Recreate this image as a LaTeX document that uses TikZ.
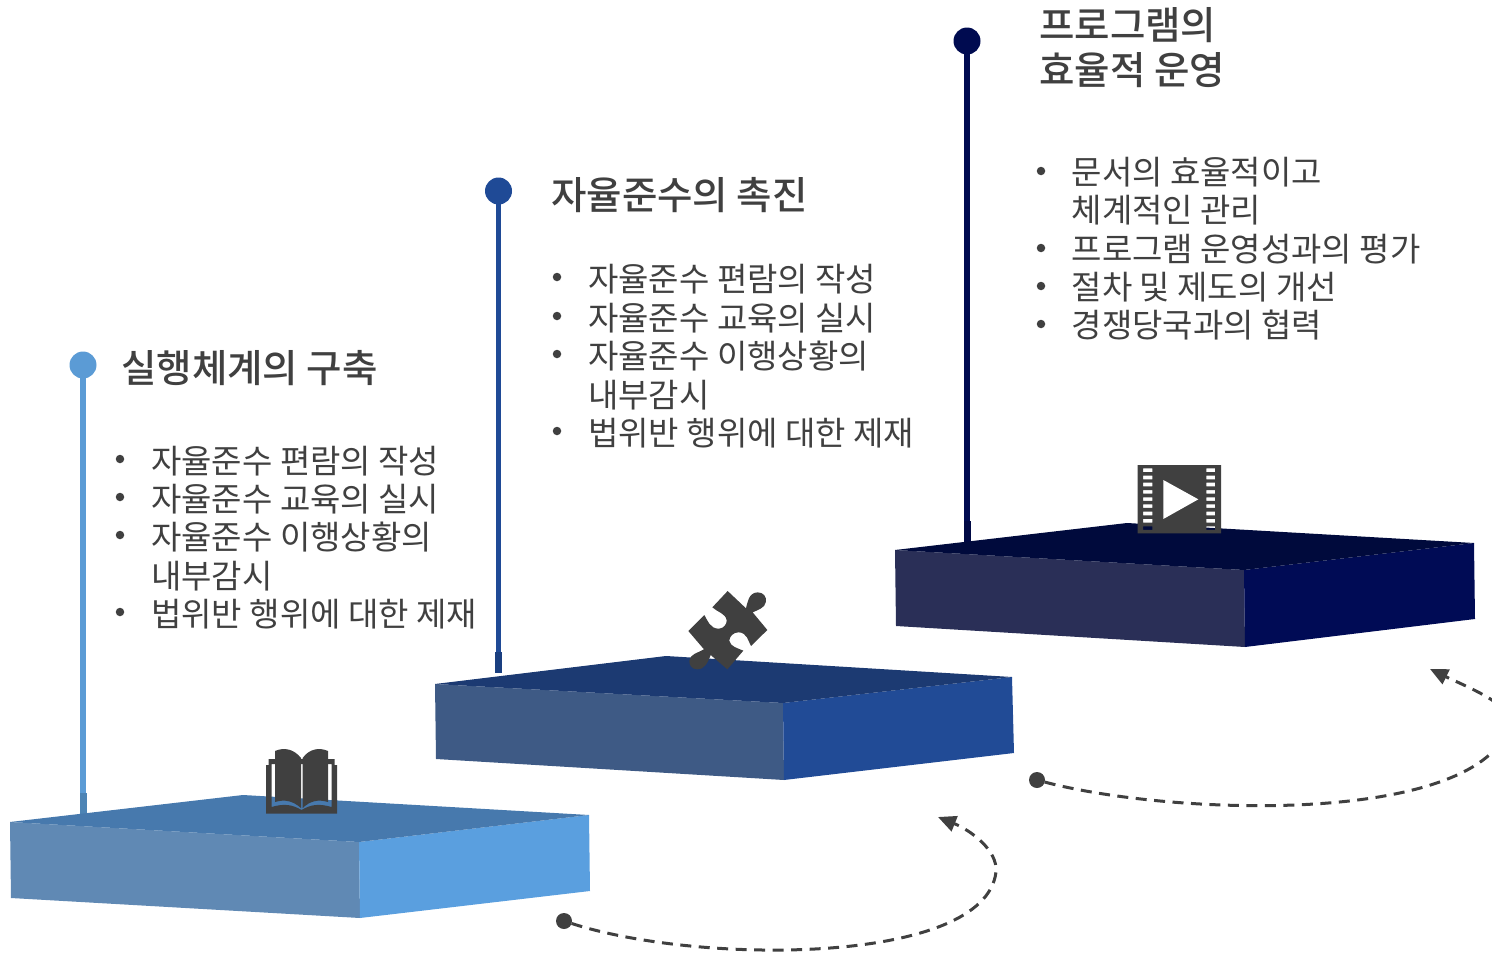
\documentclass[tikz,border=0pt]{standalone}
\usepackage{fontspec}
\usepackage{xcolor}
\usetikzlibrary{positioning,arrows.meta}
\newfontfamily\krfont{Noto Sans CJK KR}
\newfontfamily\krmed{Noto Sans CJK KR Medium}
\definecolor{ink}{HTML}{404040}
\definecolor{lightblue}{HTML}{5B9BD5}
\definecolor{midblue}{HTML}{1F4A96}
\definecolor{navy}{HTML}{000B50}
\definecolor{topA}{HTML}{4779AD}
\definecolor{leftA}{HTML}{6089B4}
\definecolor{rightA}{HTML}{5A9FDF}
\definecolor{topB}{HTML}{1C3A72}
\definecolor{leftB}{HTML}{3E5A85}
\definecolor{rightB}{HTML}{214B96}
\definecolor{topC}{HTML}{000A3C}
\definecolor{leftC}{HTML}{2A2F57}
\definecolor{rightC}{HTML}{000B55}
\tikzset{
  title/.style={anchor=base west,inner sep=0pt,text=ink,font=\krmed\fontsize{38.5}{45}\selectfont},
  item/.style={anchor=base west,inner sep=0pt,text=ink,font=\krfont\fontsize{33}{38}\selectfont},
  bul/.style={circle,fill=ink,inner sep=0pt,minimum size=8.5pt},
  dotend/.style={circle,fill=#1,inner sep=0pt,outer sep=0pt,minimum size=27pt},
  startdot/.style={circle,fill=ink,inner sep=0pt,outer sep=0pt,minimum size=16pt},
  pole/.style={line width=5.5pt},
  polefoot/.style={line width=7pt},
  loopline/.style={ink,line width=3pt,dash pattern=on 11pt off 7.5pt,-{Triangle[length=18pt,width=16pt]}},
}
\begin{document}
\begin{tikzpicture}[x=1pt,y=-1pt]
    \useasboundingbox (0,0) rectangle (1492,953);

    % poles
    \path
    (83,365) node[dotend=lightblue] (headA) {}
    (83,793) coordinate (footA)
    (83,815) coordinate (baseA)
    (498.5,191) node[dotend=midblue] (headB) {}
    (498.5,652) coordinate (footB)
    (498.5,673) coordinate (baseB)
    (967,41) node[dotend=navy] (headC) {}
    (967,521) coordinate (footC)
    (967,542) coordinate (baseC)
    ;
    \draw[pole,lightblue] (headA.center) -- (footA);
    \draw[polefoot,lightblue!85!black] (footA) -- (baseA);
    \draw[pole,midblue] (headB.center) -- (footB);
    \draw[polefoot,midblue!85!black] (footB) -- (baseB);
    \draw[pole,navy] (headC.center) -- (footC);
    \draw[polefoot,navy!85!black] (footC) -- (baseC);

    % platforms
    \fill[leftA] (10,822) -- (359,842) -- (360,918) -- (11,898) -- cycle;
    \fill[rightA] (359,842) -- (589,815) -- (590,891) -- (360,918) -- cycle;
    \fill[topA] (10,822) -- (243,795) -- (589,815) -- (359,842) -- cycle;

    \fill[leftB] (435,684) -- (783,703) -- (784,780) -- (436,759) -- cycle;
    \fill[rightB] (783,703) -- (1012,677) -- (1014,753) -- (784,780) -- cycle;
    \fill[topB] (435,684) -- (666,656) -- (1012,677) -- (783,703) -- cycle;

    \fill[leftC] (895,550) -- (1244,570) -- (1245,647) -- (896,626) -- cycle;
    \fill[rightC] (1244,570) -- (1474,543) -- (1475,619) -- (1245,647) -- cycle;
    \fill[topC] (895,550) -- (1127,523) -- (1474,543) -- (1244,570) -- cycle;

    % titles
    \path
    (121,382) node[title] (titleA) {실행체계의 구축}
    (551,209) node[title] (titleB) {자율준수의 촉진}
    (1039,39.5) node[title] (titleCa) {프로그램의}
    (1039,84.5) node[title] (titleCb) {효율적 운영}
    ;

    % first list
    \path
    (151,473) node[item] (itemAa) {자율준수 편람의 작성}
    (151,511) node[item] (itemAb) {자율준수 교육의 실시}
    (151,549) node[item] (itemAc) {자율준수 이행상황의}
    (151,588) node[item] (itemAd) {내부감시}
    (151,626) node[item] (itemAe) {법위반 행위에 대한 제재}
    (120,459) node[bul] (bulAa) {}
    (120,497) node[bul] (bulAb) {}
    (120,535) node[bul] (bulAc) {}
    (120,612) node[bul] (bulAe) {}
    ;

    % second list
    \path
    (588,291) node[item] (itemBa) {자율준수 편람의 작성}
    (588,330) node[item] (itemBb) {자율준수 교육의 실시}
    (588,368) node[item] (itemBc) {자율준수 이행상황의}
    (588,407) node[item] (itemBd) {내부감시}
    (588,445) node[item] (itemBe) {법위반 행위에 대한 제재}
    (557,277) node[bul] (bulBa) {}
    (557,316) node[bul] (bulBb) {}
    (557,354) node[bul] (bulBc) {}
    (557,431) node[bul] (bulBe) {}
    ;

    % third list
    \path
    (1071.5,184) node[item] (itemCa) {문서의 효율적이고}
    (1071.5,222) node[item] (itemCb) {체계적인 관리}
    (1071.5,261) node[item] (itemCc) {프로그램 운영성과의 평가}
    (1071.5,299) node[item] (itemCd) {절차 및 제도의 개선}
    (1071.5,337) node[item] (itemCe) {경쟁당국과의 협력}
    (1041,171) node[bul] (bulCa) {}
    (1041,248) node[bul] (bulCc) {}
    (1041,286) node[bul] (bulCd) {}
    (1041,324) node[bul] (bulCe) {}
    ;

    % book
    \fill[ink,even odd rule] (266,765) -- (268.5,765) -- (268.5,759) -- (334.5,759) -- (334.5,765) -- (337,765) -- (337,813.5) -- (266,813.5) -- cycle
      (271.5,764) -- (331.5,764) -- (331.5,807) .. controls (318,803) and (310,805) .. (301.5,810) .. controls (293,805) and (285,803) .. (271.5,807) -- cycle;
    \fill[ink] (275,751) .. controls (284,747) and (294,749) .. (301,758) -- (301,808) .. controls (293,801) and (285,799) .. (275,802) -- cycle;
    \fill[ink] (328,751) .. controls (319,747) and (309,749) .. (302.7,758) -- (302.7,808) .. controls (310,801) and (318,799) .. (328,802) -- cycle;

    % puzzle piece
    \begin{scope}[shift={(670,580)},scale=.3333]
    \fill[ink] (173,33) -- (228,85) .. controls (232,70) and (235,38) .. (263,37) .. controls (280,37) and (290,50) .. (288,65) .. controls (285,85) and (262,90) .. (248,97)
      -- (292,150) -- (243,198) .. controls (235,185) and (232,157) .. (205,157) .. controls (190,157) and (178,170) .. (178,182) .. controls (180,200) and (205,205) .. (220,212)
      -- (172,268) -- (122,225) .. controls (115,245) and (105,268) .. (82,268) .. controls (65,268) and (57,255) .. (58,242) .. controls (60,222) and (85,218) .. (102,208)
      -- (55,153) -- (103,105) .. controls (112,120) and (120,147) .. (147,146) .. controls (162,145) and (170,132) .. (170,122) .. controls (168,100) and (143,97) .. (127,82) -- cycle;
    \end{scope}

    % film strip
    \begin{scope}[shift={(1120,450)},scale=.3333]
    \fill[ink,even odd rule] (53,45) rectangle (303,250)
      \foreach \h in {55,77,98,120,142,163,185,207,229} { (69,\h) rectangle (97,\h+11) (259,\h) rectangle (285,\h+11) };
    \fill[white] (130,90) -- (235,148) -- (130,207) -- cycle;
    \end{scope}

    % dashed loops
    \path
    (564,921) node[startdot] (startA) {}
    (938,817) coordinate (endA)
    (1037,780) node[startdot] (startB) {}
    (1430,669) coordinate (endB)
    ;
    \draw[loopline] (startA) .. controls (700,965) and (985,965) .. (996,872) .. controls (998,850) and (970,830) .. (endA);
    \draw[loopline] (startB) .. controls (1173,816) and (1480,826) .. (1510,724) .. controls (1514,705) and (1465,686) .. (endB);
\end{tikzpicture}
\end{document}
